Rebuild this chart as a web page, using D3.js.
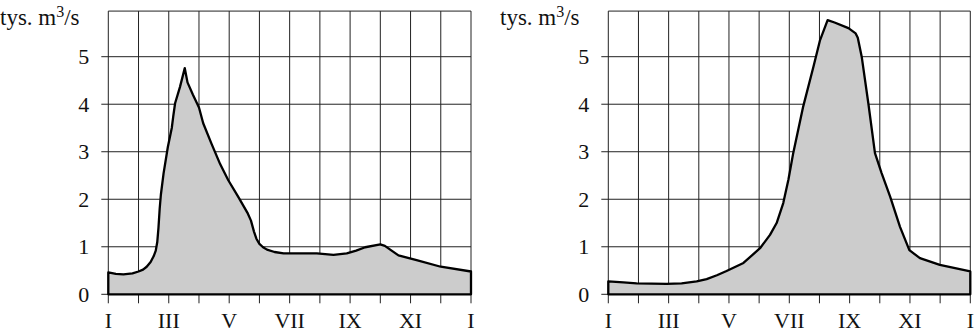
<!DOCTYPE html>
<html>
<head>
<meta charset="utf-8">
<script src="https://cdn.jsdelivr.net/npm/d3@7"></script>
<style>
  html, body { margin: 0; padding: 0; background: #fff; }
  svg { display: block; }
</style>
</head>
<body>
<svg id="chart" width="976" height="334"></svg>
<script>
// Month grid and axis labels (0 = start of January, 12 = end of December)
const months = d3.range(0, 13);
const monthLabels = ["I", "", "III", "", "V", "", "VII", "", "IX", "", "XI", "", "I"];
const yTicks = [0, 1, 2, 3, 4, 5];
const unitLabel = "tys. m";
const FONT = "'Liberation Serif', 'DejaVu Serif', 'Times New Roman', serif";

// Left river: spring flood regime (month, discharge in thousand m³/s)
const leftMonth = [0, 0.25, 0.5, 0.8, 1.0, 1.15, 1.27, 1.4, 1.5, 1.57, 1.62, 1.66, 1.7, 1.74, 1.83, 1.97, 2.1, 2.15,
  2.21, 2.37, 2.53, 2.62, 2.8, 3.0, 3.14, 3.42, 3.7, 3.97, 4.3, 4.6, 4.72, 4.82, 4.9, 5.0, 5.12, 5.25,
  5.5, 5.8, 6.9, 7.45, 7.89, 8.2, 8.5, 9.0, 9.15, 9.35, 9.6, 10.2, 11.0, 12];
const leftFlow = [0.46, 0.43, 0.42, 0.44, 0.48, 0.52, 0.58, 0.68, 0.8, 0.92, 1.1, 1.4, 1.8, 2.1, 2.55, 3.1, 3.5, 3.75,
  4.02, 4.36, 4.76, 4.46, 4.2, 3.93, 3.6, 3.16, 2.74, 2.4, 2.05, 1.72, 1.55, 1.32, 1.17, 1.06, 0.99, 0.94,
  0.89, 0.86, 0.86, 0.83, 0.86, 0.92, 0.99, 1.05, 1.02, 0.93, 0.82, 0.72, 0.58, 0.48];

// Right river: summer flood regime
const rightMonth = [0, 0.5, 0.94, 1.93, 2.43, 2.93, 3.26, 3.6, 3.92, 4.48, 5.03, 5.36, 5.58, 5.8, 5.97,
  6.13, 6.46, 6.8, 7.02, 7.27, 7.5, 7.96, 8.2, 8.27, 8.4, 8.62, 8.84, 9.06, 9.34, 9.67, 9.98,
  10.33, 10.99, 12];
const rightFlow = [0.27, 0.25, 0.23, 0.22, 0.23, 0.27, 0.32, 0.4, 0.49, 0.66, 0.97, 1.25, 1.5, 1.92, 2.41,
  2.97, 3.95, 4.79, 5.35, 5.77, 5.72, 5.6, 5.49, 5.4, 5.0, 4.02, 2.97, 2.55, 2.06, 1.42, 0.93,
  0.76, 0.62, 0.48];

const svg = d3.select("#chart");
const yTop = 5.96;
const y = d3.scaleLinear().domain([0, 5]).range([294.3, 56.7]);

function panel(left, right, labelX, mArr, qArr) {
  const x = d3.scaleLinear().domain([0, 12]).range([left, right]);
  const g = svg.append("g");

  // grid: vertical month lines with ticks below the baseline
  g.selectAll("line.v").data(months).join("line")
    .attr("x1", d => x(d)).attr("x2", d => x(d))
    .attr("y1", y(yTop)).attr("y2", y(0) + 9)
    .attr("stroke", "#222").attr("stroke-width", 1);

  // grid: horizontal lines with ticks left of the axis
  g.selectAll("line.h").data(yTicks).join("line")
    .attr("x1", left - 7).attr("x2", right)
    .attr("y1", d => y(d)).attr("y2", d => y(d))
    .attr("stroke", "#222").attr("stroke-width", 1);

  // top frame
  g.append("line")
    .attr("x1", left).attr("x2", right)
    .attr("y1", y(yTop)).attr("y2", y(yTop))
    .attr("stroke", "#222").attr("stroke-width", 1);

  // hydrograph area
  const pts = mArr.map((m, i) => [m, qArr[i]]);
  const area = d3.area()
    .x(d => x(d[0])).y0(y(0)).y1(d => y(d[1]))
    .curve(d3.curveLinear);
  g.append("path").datum(pts)
    .attr("d", area(pts))
    .attr("fill", "#cccccc")
    .attr("stroke", "#000").attr("stroke-width", 2.3)
    .attr("stroke-linejoin", "round");

  // y tick labels
  g.selectAll("text.y").data(yTicks).join("text")
    .attr("x", left - 19).attr("y", d => y(d))
    .attr("dy", "0.34em")
    .attr("text-anchor", "end")
    .attr("font-family", FONT)
    .attr("font-size", 22)
    .attr("fill", "#111")
    .text(d => d);

  // month labels
  g.selectAll("text.m").data(months.filter(d => monthLabels[d] !== "")).join("text")
    .attr("x", d => x(d)).attr("y", 328)
    .attr("text-anchor", "middle")
    .attr("font-family", FONT)
    .attr("font-size", 22)
    .attr("fill", "#111")
    .text(d => monthLabels[d]);

  // unit label
  const t = g.append("text").attr("x", labelX).attr("y", 25)
    .attr("font-family", FONT).attr("font-size", 23).attr("fill", "#111");
  t.append("tspan").text(unitLabel);
  t.append("tspan").attr("dy", -8).attr("font-size", 16).text("3");
  t.append("tspan").attr("dy", 8).text("/s");
}

panel(108.3, 471, 0, leftMonth, leftFlow);
panel(608.3, 970.3, 500, rightMonth, rightFlow);
</script>
</body>
</html>
